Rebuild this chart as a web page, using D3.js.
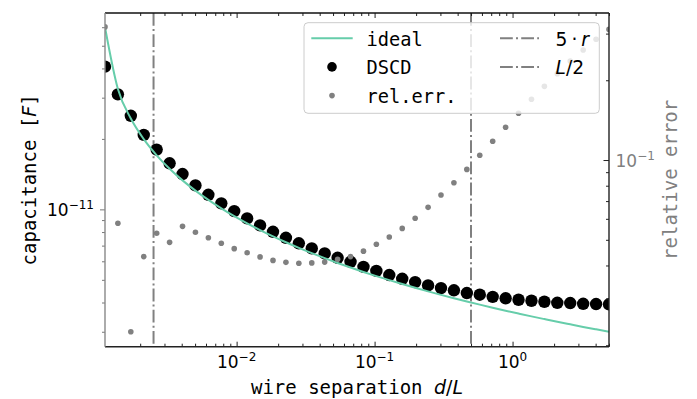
<!DOCTYPE html>
<html><head><meta charset="utf-8">
<script src="https://cdn.jsdelivr.net/npm/d3@7"></script>
<style>body{margin:0;background:#fff} svg{display:block}</style>
</head><body><svg id="c" width="697" height="399"></svg>
<script>
// ---- data ----
const sepValues = [1.112e-3, 1.379e-3, 1.711e-3, 2.123e-3, 2.634e-3, 3.268e-3, 4.055e-3, 5.030e-3, 6.241e-3, 7.745e-3,
  9.609e-3, 1.192e-2, 1.479e-2, 1.835e-2, 2.277e-2, 2.825e-2, 3.505e-2, 4.348e-2, 5.395e-2, 6.694e-2,
  8.306e-2, 0.1030, 0.1278, 0.1586, 0.1968, 0.2442, 0.3029, 0.3758, 0.4663, 0.5785,
  0.7178, 0.8906, 1.105, 1.371, 1.701, 2.110, 2.618, 3.249, 4.030, 5.000];
const idealCap = [6.00e-11, 3.269e-11, 2.443e-11, 1.995e-11, 1.702e-11, 1.491e-11, 1.330e-11, 1.202e-11, 1.097e-11, 1.010e-11,
  9.356e-12, 8.717e-12, 8.160e-12, 7.671e-12, 7.237e-12, 6.849e-12, 6.502e-12, 6.188e-12, 5.902e-12, 5.642e-12,
  5.404e-12, 5.186e-12, 4.984e-12, 4.797e-12, 4.624e-12, 4.463e-12, 4.313e-12, 4.172e-12, 4.041e-12, 3.917e-12,
  3.801e-12, 3.691e-12, 3.588e-12, 3.490e-12, 3.398e-12, 3.310e-12, 3.227e-12, 3.147e-12, 3.072e-12, 3.000e-12];
const dscdCap = [4.07e-11, 3.10e-11, 2.51e-11, 2.08e-11, 1.80e-11, 1.573e-11, 1.415e-11, 1.266e-11, 1.154e-11, 1.061e-11,
  9.83e-12, 9.15e-12, 8.54e-12, 8.02e-12, 7.56e-12, 7.16e-12, 6.81e-12, 6.48e-12, 6.21e-12, 5.97e-12,
  5.68e-12, 5.46e-12, 5.24e-12, 5.05e-12, 4.89e-12, 4.73e-12, 4.61e-12, 4.51e-12, 4.39e-12, 4.32e-12,
  4.23e-12, 4.17e-12, 4.11e-12, 4.07e-12, 4.03e-12, 3.99e-12, 3.98e-12, 3.95e-12, 3.94e-12, 3.93e-12];
const relErr = [0.318, 0.0577, 0.0225, 0.0432, 0.0529, 0.0489, 0.0562, 0.0534, 0.0509, 0.0485,
  0.0463, 0.0447, 0.0431, 0.0418, 0.0411, 0.0408, 0.0409, 0.0412, 0.0422, 0.0432,
  0.0453, 0.0481, 0.0512, 0.0552, 0.0603, 0.0663, 0.0738, 0.0821, 0.0922, 0.1042,
  0.1177, 0.1329, 0.1501, 0.1695, 0.1897, 0.2117, 0.2364, 0.2601, 0.2855, 0.3112];
const vLines = [2.5e-3, 0.5];            // 5·r , L/2
const xTickExps = [-2, -1, 0];
const capTickExps = [-11];
const errTickExps = [-1];
const xDomain = [1.112e-3, 5.0];
const capDomain = [2.59e-12, 6.9e-11];
const errDomain = [0.01975, 0.3588];

// ---- layout ----
const L = 105, R = 609, T = 13, B = 346.7;
const MONO = "'DejaVu Sans Mono', monospace", SANS = "'DejaVu Sans', sans-serif";
const GREEN = "#66cdaa", GRAY = "#808080";
const svg = d3.select("#c");
const x = d3.scaleLog().domain(xDomain).range([L, R]);
const yC = d3.scaleLog().domain(capDomain).range([B, T]);
const yE = d3.scaleLog().domain(errDomain).range([B, T]);

svg.append("defs").append("clipPath").attr("id", "clip")
  .append("rect").attr("x", L).attr("y", T).attr("width", R - L).attr("height", B - T);
const plot = svg.append("g").attr("clip-path", "url(#clip)");

// vertical reference lines
plot.selectAll("line.v").data(vLines).join("line")
  .attr("x1", d => x(d)).attr("x2", d => x(d)).attr("y1", T).attr("y2", B)
  .attr("stroke", GRAY).attr("stroke-width", 2).attr("stroke-dasharray", "12.8,3.2,2,3.2");

// DSCD dots
plot.selectAll("circle.dscd").data(sepValues).join("circle")
  .attr("cx", (d) => x(d)).attr("cy", (d, i) => yC(dscdCap[i])).attr("r", 6.2).attr("fill", "#000");

// ideal curve
const line = d3.line().x(d => x(d[0])).y(d => yC(d[1])).curve(d3.curveMonotoneX);
plot.append("path").datum(sepValues.map((s, i) => [s, idealCap[i]]))
  .attr("d", line).attr("fill", "none").attr("stroke", GREEN).attr("stroke-width", 2);

// relative error dots
plot.selectAll("circle.err").data(sepValues).join("circle")
  .attr("cx", d => x(d)).attr("cy", (d, i) => yE(relErr[i])).attr("r", 2.8).attr("fill", GRAY);

// ---- ticks ----
function isMajor(v) { const l = Math.log10(v); return Math.abs(l - Math.round(l)) < 1e-9; }
const xMaj = x.ticks().filter(isMajor), xMin = x.ticks().filter(v => !isMajor(v));
const cMaj = yC.ticks().filter(isMajor), cMin = yC.ticks().filter(v => !isMajor(v));
const eMaj = yE.ticks().filter(isMajor), eMin = yE.ticks().filter(v => !isMajor(v));

function tickAxis(axisGen, vals, size, tr, color) {
  const g = svg.append("g").attr("transform", tr)
    .call(axisGen.tickValues(vals).tickSize(size).tickSizeOuter(0).tickFormat(""));
  g.select(".domain").remove();
  g.selectAll("line").attr("stroke", color).attr("stroke-width", 1);
  return g;
}
tickAxis(d3.axisBottom(x), xMaj, -5, `translate(0,${B})`, "#222");
tickAxis(d3.axisBottom(x), xMin, -3, `translate(0,${B})`, "#222");
tickAxis(d3.axisTop(x), xMaj, -5, `translate(0,${T})`, "#222");
tickAxis(d3.axisTop(x), xMin, -3, `translate(0,${T})`, "#222");
tickAxis(d3.axisLeft(yC), cMaj, 5, `translate(${L},0)`, "#777");
tickAxis(d3.axisLeft(yC), cMin, 3, `translate(${L},0)`, "#777");
tickAxis(d3.axisRight(yE), eMaj, -5.5, `translate(${R},0)`, "#222");
tickAxis(d3.axisRight(yE), eMin, -3, `translate(${R},0)`, "#222");

// spines
const sp = svg.append("g").attr("stroke-width", 1.4);
sp.append("line").attr("x1", L).attr("x2", R).attr("y1", T).attr("y2", T).attr("stroke", "#111");
sp.append("line").attr("x1", L).attr("x2", R).attr("y1", B).attr("y2", B).attr("stroke", "#222");
sp.append("line").attr("x1", R).attr("x2", R).attr("y1", T).attr("y2", B).attr("stroke", "#222");
sp.append("line").attr("x1", L).attr("x2", L).attr("y1", T).attr("y2", B).attr("stroke", "#888");

// tick labels (10^n)
function powLabel(px, py, exp, anchor, color) {
  const t = svg.append("text").attr("x", px).attr("y", py).attr("text-anchor", anchor)
    .attr("font-family", SANS).attr("font-size", 17).attr("fill", color);
  t.append("tspan").text("10");
  t.append("tspan").attr("dy", -7).attr("font-size", 12).text(exp < 0 ? "\u2212" + Math.abs(exp) : String(exp));
}
xTickExps.forEach(e => powLabel(x(Math.pow(10, e)), 367.5, e, "middle", "#000"));
capTickExps.forEach(e => powLabel(L - 11, yC(Math.pow(10, e)) + 6.3, e, "end", "#000"));
errTickExps.forEach(e => powLabel(R + 6.5, yE(Math.pow(10, e)) + 6.8, e, "start", GRAY));

// axis labels
const xl = svg.append("text").attr("x", (L + R) / 2).attr("y", 393.5).attr("text-anchor", "middle")
  .attr("font-family", MONO).attr("font-size", 19).attr("fill", "#000");
xl.append("tspan").text("wire separation ");
xl.append("tspan").attr("font-family", SANS).attr("font-style", "italic").text("d");
xl.append("tspan").attr("font-family", SANS).text("/");
xl.append("tspan").attr("font-family", SANS).attr("font-style", "italic").text("L");

const yl = svg.append("text").attr("transform", `translate(36,${(T + B) / 2}) rotate(-90)`)
  .attr("text-anchor", "middle").attr("font-family", MONO).attr("font-size", 19).attr("fill", "#000");
yl.append("tspan").text("capacitance [");
yl.append("tspan").attr("font-family", SANS).attr("font-style", "italic").text("F");
yl.append("tspan").text("]");

svg.append("text").attr("transform", `translate(677,${(T + B) / 2}) rotate(-90)`)
  .attr("text-anchor", "middle").attr("font-family", MONO).attr("font-size", 19).attr("fill", GRAY)
  .text("relative error");

// ---- legend ----
const lg = svg.append("g");
lg.append("rect").attr("x", 304).attr("y", 22.7).attr("width", 295.3).attr("height", 90.6).attr("rx", 4)
  .attr("fill", "#fff").attr("fill-opacity", 0.8).attr("stroke", "#ccc").attr("stroke-width", 1);
const rowY = [38.3, 66.9, 95.6];
lg.append("line").attr("x1", 311.3).attr("x2", 352.7).attr("y1", rowY[0]).attr("y2", rowY[0])
  .attr("stroke", GREEN).attr("stroke-width", 2);
lg.append("circle").attr("cx", 332).attr("cy", rowY[1]).attr("r", 4.8).attr("fill", "#000");
lg.append("circle").attr("cx", 332).attr("cy", rowY[2]).attr("r", 2.8).attr("fill", GRAY);
[0, 1].forEach(i => lg.append("line").attr("x1", 500).attr("x2", 539).attr("y1", rowY[i]).attr("y2", rowY[i])
  .attr("stroke", GRAY).attr("stroke-width", 2).attr("stroke-dasharray", "12.8,3.2,2,3.2"));
const legTexts = ["ideal", "DSCD", "rel.err."];
legTexts.forEach((s, i) => lg.append("text").attr("x", 366.5).attr("y", rowY[i] + 7.2)
  .attr("font-family", MONO).attr("font-size", 18.7).attr("fill", "#000").text(s));
const t1 = lg.append("text").attr("x", 555.5).attr("y", rowY[0] + 7.2).attr("font-family", SANS).attr("font-size", 18.7);
t1.append("tspan").text("5");
t1.append("tspan").attr("dx", 4).text("\u00b7");
t1.append("tspan").attr("dx", 4).attr("font-style", "italic").text("r");
const t2 = lg.append("text").attr("x", 555.5).attr("y", rowY[1] + 7.2).attr("font-family", SANS).attr("font-size", 18.7);
t2.append("tspan").attr("font-style", "italic").text("L");
t2.append("tspan").text("/2");
</script></body></html>
